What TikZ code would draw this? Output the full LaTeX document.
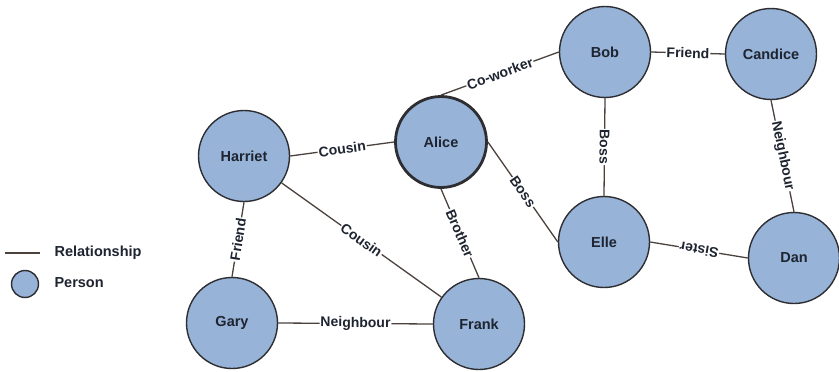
\documentclass[tikz,border=0pt]{standalone}
\usepackage{fontspec}
\setmainfont{Liberation Sans}
\definecolor{nodefill}{RGB}{151,180,216}
\definecolor{nodeline}{RGB}{45,45,50}
\definecolor{edgeline}{RGB}{75,66,62}
\definecolor{txt}{RGB}{30,36,48}
\tikzset{
  person/.style={circle, draw=nodeline, line width=1.4pt, fill=nodefill, minimum size=91pt, inner sep=0pt, font=\fontsize{14.5}{16}\selectfont\bfseries, text=txt},
  rel/.style={draw=edgeline, line width=1.3pt},
  rlabel/.style={midway, sloped, allow upside down, fill=white, inner sep=1pt, font=\fontsize{14}{16}\selectfont\bfseries, text=txt}
}
\begin{document}
\begin{tikzpicture}[x=1pt,y=-1pt]
\useasboundingbox (0,0) rectangle (839,372);
\fill[white] (0,0) rectangle (839,372);
% nodes
\node[person] (bob) at (605,52) {Bob};
\node[person] (candice) at (771,54) {Candice};
\node[person, line width=2.8pt] (alice) at (441,142) {Alice};
\node[person] (harriet) at (244,156) {Harriet};
\node[person] (elle) at (604,242) {Elle};
\node[person] (dan) at (794,258) {Dan};
\node[person] (gary) at (232,323) {Gary};
\node[person] (frank) at (479,324) {Frank};
% edges
\draw[rel] (alice.north) -- node[rlabel]{Co-worker} (bob.west);
\draw[rel] (bob.east) -- node[rlabel]{Friend} (candice.west);
\draw[rel] (bob.south) -- node[rlabel]{Boss} (elle.north);
\draw[rel] (candice.south) -- node[rlabel]{Neighbour} (dan.north);
\draw[rel] (alice.east) -- node[rlabel]{Boss} (elle.west);
\draw[rel] (dan.west) -- node[rlabel]{Sister} (elle.east);
\draw[rel] (alice.south) -- node[rlabel]{Brother} (frank.north);
\draw[rel] (harriet.east) -- node[rlabel]{Cousin} (alice.west);
\draw[rel] (harriet) -- node[rlabel]{Cousin} (frank);
\draw[rel] (gary.north) -- node[rlabel]{Friend} (harriet.south);
\draw[rel] (gary.east) -- node[rlabel]{Neighbour} (frank.west);
% legend
\coordinate (la) at (5,253);
\coordinate (lb) at (40,253);
\draw[rel] (la) -- (lb);
\node[anchor=west, font=\fontsize{14.5}{16}\selectfont\bfseries, text=txt] (lrel) at (51,253) {Relationship};
\node[circle, draw=nodeline, line width=1.4pt, fill=nodefill, minimum size=27pt, inner sep=0pt] (lperson) at (25,284) {};
\node[anchor=west, font=\fontsize{14.5}{16}\selectfont\bfseries, text=txt] (lper) at (51,283) {Person};
\end{tikzpicture}
\end{document}
